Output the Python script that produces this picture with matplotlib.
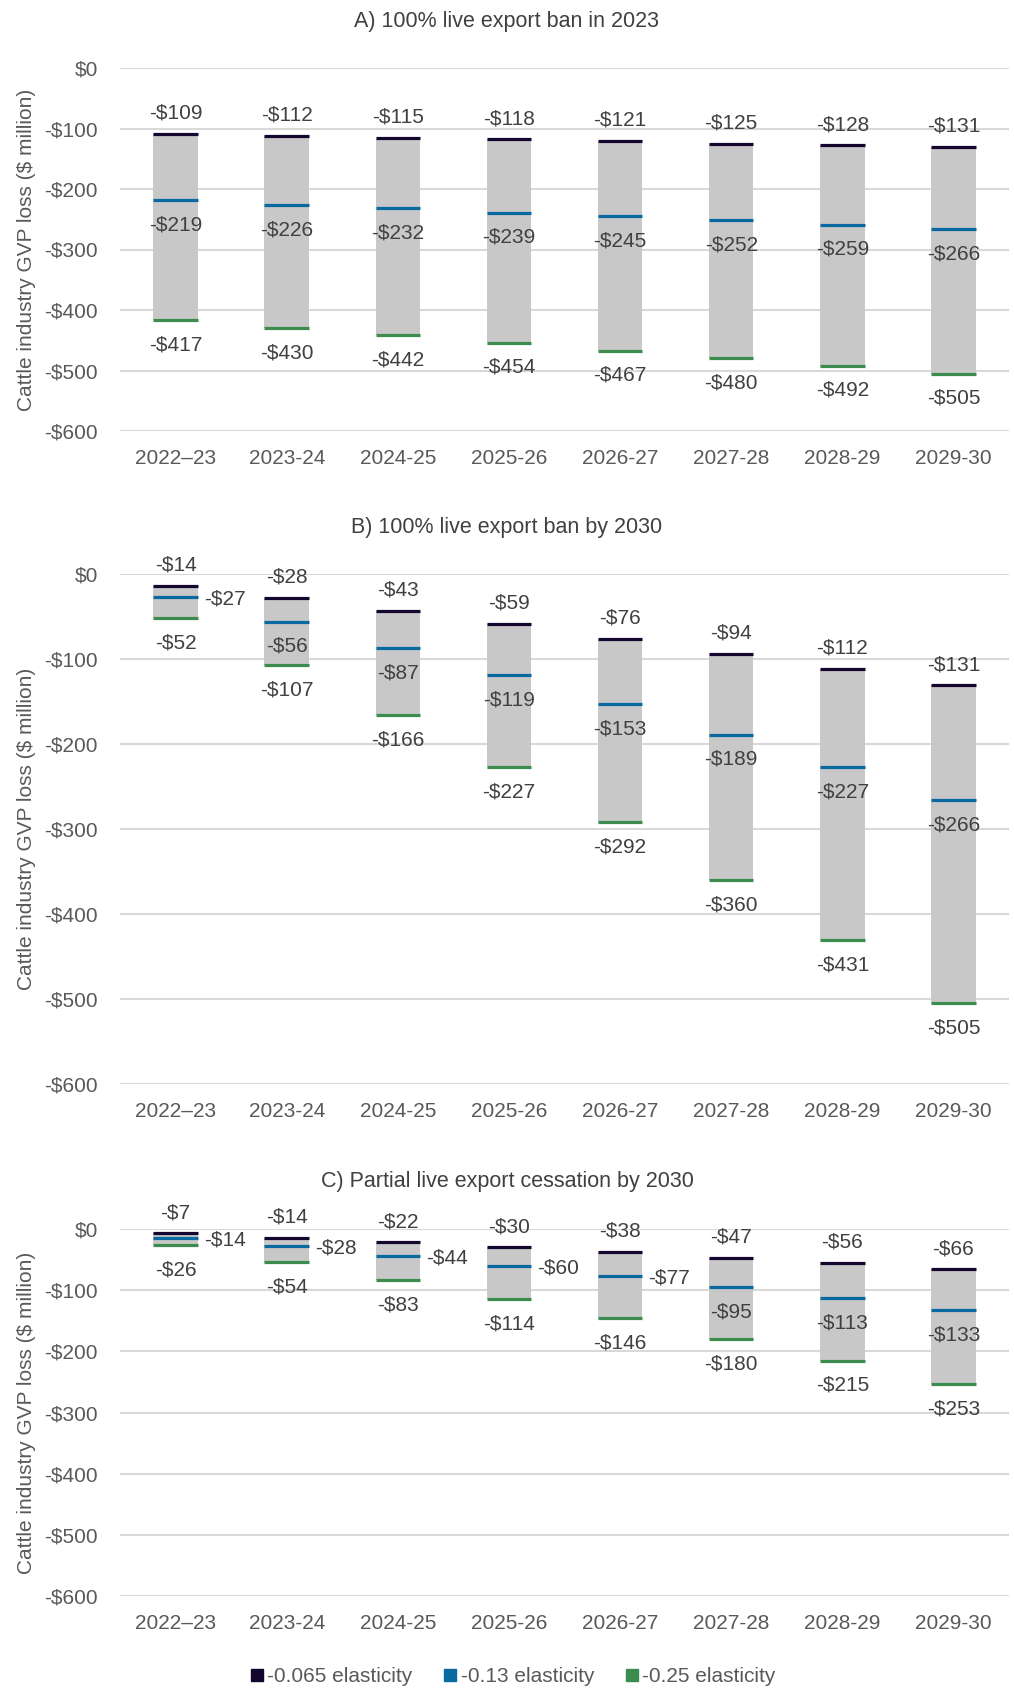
import matplotlib.pyplot as plt
from matplotlib.lines import Line2D
import numpy as np

plt.rcParams["font.family"] = ["Liberation Sans Narrow", "Liberation Sans", "DejaVu Sans"]

years = ["2022\u201323", "2023-24", "2024-25", "2025-26", "2026-27", "2027-28", "2028-29", "2029-30"]
series_names = ["-0.065 elasticity", "-0.13 elasticity", "-0.25 elasticity"]

# A) 100% live export ban in 2023
a_low = [109, 112, 115, 118, 121, 125, 128, 131]
a_mid = [219, 226, 232, 239, 245, 252, 259, 266]
a_high = [417, 430, 442, 454, 467, 480, 492, 505]

# B) 100% live export ban by 2030
b_low = [14, 28, 43, 59, 76, 94, 112, 131]
b_mid = [27, 56, 87, 119, 153, 189, 227, 266]
b_high = [52, 107, 166, 227, 292, 360, 431, 505]

# C) Partial live export cessation by 2030
c_low = [7, 14, 22, 30, 38, 47, 56, 66]
c_mid = [14, 28, 44, 60, 77, 95, 113, 133]
c_high = [26, 54, 83, 114, 146, 180, 215, 253]

titles = ["A) 100% live export ban in 2023", "B) 100% live export ban by 2030",
          "C) Partial live export cessation by 2030"]
# how many leading mid labels sit to the right of the bar
mid_right = [0, 1, 5]

colors = ["#14062e", "#0a69a0", "#3d8c4f"]
gray = "#c8c8c8"
text_col = "#404040"
tick_col = "#595959"

W, H = 1014, 1693
fig = plt.figure(figsize=(W / 100, H / 100), dpi=100)

# panel pixel extents (top, bottom) and title centre
panels = [(68, 431, 21), (574, 1084, 528), (1229, 1596, 1181)]
left, right = 120, 1009

data = [(a_low, a_mid, a_high), (b_low, b_mid, b_high), (c_low, c_mid, c_high)]
x = np.arange(len(years))
bw = 0.4

for k, ((top, bot, ty), (low, mid, high)) in enumerate(zip(panels, data)):
    ax = fig.add_axes([left / W, 1 - bot / H, (right - left) / W, (bot - top) / H])
    low, mid, high = np.array(low), np.array(mid), np.array(high)

    ax.bar(x, -(high - low), bottom=-low, width=bw, color=gray, zorder=2)
    for vals, c in zip((low, mid, high), colors):
        ax.hlines(-vals, x - bw / 2, x + bw / 2, color=c, lw=2.3, zorder=3)

    for i in range(len(x)):
        ax.annotate(f"-${low[i]}", (x[i], -low[i]), xytext=(0, 11), textcoords="offset points",
                    ha="center", va="baseline", fontsize=15, color=text_col, annotation_clip=False)
        if i < mid_right[k]:
            ax.annotate(f"-${mid[i]}", (x[i] + bw / 2, -mid[i]), xytext=(4.5, -5.4),
                        textcoords="offset points", ha="left", va="baseline",
                        fontsize=15, color=text_col)
        else:
            ax.annotate(f"-${mid[i]}", (x[i], -mid[i]), xytext=(0, -11),
                        textcoords="offset points", ha="center", va="top",
                        fontsize=15, color=text_col)
        ax.annotate(f"-${high[i]}", (x[i], -high[i]), xytext=(0, -11), textcoords="offset points",
                    ha="center", va="top", fontsize=15, color=text_col)

    ax.set_xlim(-0.5, len(x) - 0.5)
    ax.set_ylim(-600, 0)
    yt = np.arange(0, -601, -100)
    ax.set_yticks(yt)
    ax.set_yticklabels(["$0" if v == 0 else f"-${-v}" for v in yt])
    ax.set_xticks(x)
    ax.set_xticklabels(years)
    ax.tick_params(length=0, labelsize=15, labelcolor=tick_col)
    ax.tick_params(axis="y", pad=16)
    ax.tick_params(axis="x", pad=13)
    ax.grid(axis="y", color="#d9d9d9", lw=1.5, zorder=0)
    ax.set_axisbelow(True)
    for s in ax.spines.values():
        s.set_visible(False)

    fig.text(0.5, 1 - ty / H, titles[k], ha="center", va="center", fontsize=15.5, color=text_col)
    fig.text(27 / W, 1 - (top + bot) / 2 / H, "Cattle industry GVP loss ($ million)", rotation=90,
             ha="center", va="center", fontsize=15, color=tick_col)

handles = [Line2D([], [], marker="s", ls="none", color=c, markersize=8) for c in colors]
fig.legend(handles, series_names, loc="center", bbox_to_anchor=(0.505, 1 - 1677 / H), ncol=3,
           frameon=False, fontsize=15, handletextpad=0.1, columnspacing=1.4, labelcolor=tick_col,
           handlelength=0.8)

fig.savefig("out.png", dpi=100)
